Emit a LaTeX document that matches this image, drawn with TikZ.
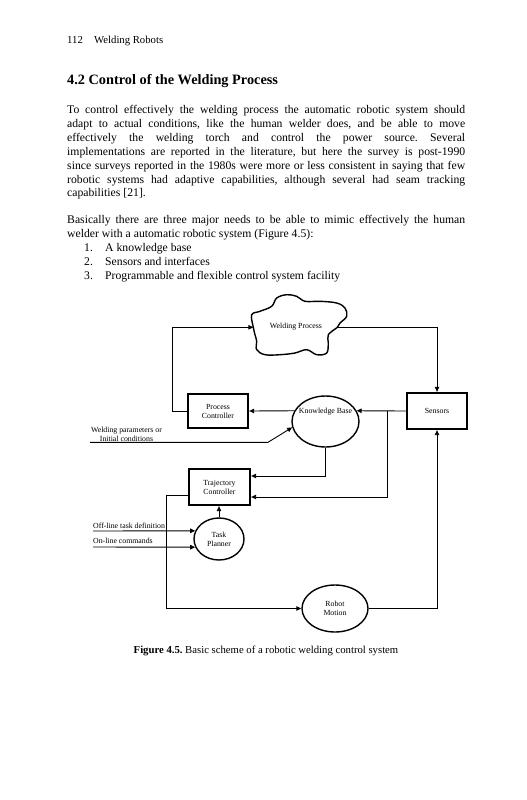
\documentclass[tikz,border=0pt]{standalone}
\usepackage{fontspec}
\setmainfont{Liberation Serif}
\usetikzlibrary{arrows.meta,calc,shapes.geometric}
\frenchspacing
\begin{document}
\begin{tikzpicture}[x=1pt,y=-1pt,
  body/.style={anchor=base west,inner sep=0pt,font=\fontsize{11.7}{13.9}\selectfont},
  lbl/.style={font=\fontsize{7.8}{9}\selectfont,inner sep=0pt,align=center},
  boxn/.style={draw,line width=1.8pt,font=\fontsize{7.8}{9}\selectfont,align=center,inner sep=0pt},
  ell/.style={draw,ellipse,line width=1.4pt,inner sep=0pt},
  con/.style={line width=0.9pt},
  arr/.style={con,-{Triangle[length=5pt,width=4.5pt]}}]
\useasboundingbox[fill=white] (0,0) rectangle (527,800);

% header and text
\node[anchor=base west,inner sep=0pt,font=\fontsize{10.7}{12}\selectfont] (pg) at (67,43.5) {112};
\node[anchor=base west,inner sep=0pt,font=\fontsize{10.7}{12}\selectfont] (rh) at (94,43.5) {Welding Robots};
\node[anchor=base west,inner sep=0pt,font=\fontsize{14.3}{16}\selectfont\bfseries] (hd) at (67,84.5) {4.2 Control of the Welding Process};

\node[body] (a1) at (67,113.6) {\makebox[398pt][s]{To control effectively the welding process the automatic robotic system should}};
\node[body] (a2) at (67,127.5) {\makebox[398pt][s]{adapt to actual conditions, like the human welder does, and be able to move}};
\node[body] (a3) at (67,141.3) {\makebox[398pt][s]{effectively the welding torch and control the power source. Several}};
\node[body] (a4) at (67,155.2) {\makebox[398pt][s]{implementations are reported in the literature, but here the survey is post-1990}};
\node[body] (a5) at (67,169.1) {\makebox[398pt][s]{since surveys reported in the 1980s were more or less consistent in saying that few}};
\node[body] (a6) at (67,183.0) {\makebox[398pt][s]{robotic systems had adaptive capabilities, although several had seam tracking}};
\node[body] (a7) at (67,196.8) {capabilities [21].};

\node[body] (b1) at (67,223.8) {\makebox[398pt][s]{Basically there are three major needs to be able to mimic effectively the human}};
\node[body] (b2) at (67,237.7) {welder with a automatic robotic system (Figure 4.5):};
\node[body] (n1) at (84,251.6) {1.};
\node[body] (l1) at (105,251.6) {A knowledge base};
\node[body] (n2) at (84,265.4) {2.};
\node[body] (l2) at (105,265.4) {Sensors and interfaces};
\node[body] (n3) at (84,279.3) {3.};
\node[body] (l3) at (105,279.3) {Programmable and flexible control system facility};

% cloud
\draw[line width=1.4pt] plot[smooth cycle,tension=0.6] coordinates {
 (253.3,327.3) (251.7,314.7) (260,311.3) (271.7,306.3) (276.7,298) (286.7,294.7)
 (296.7,296.3) (305,301.3) (320,301.3) (336.7,303) (345,308) (346.7,316.3)
 (340,323) (337.3,327.3) (328.3,334.7) (328.3,343) (326.7,353) (316.7,354.7)
 (306.7,349.7) (295,353) (280,354.7) (265,354.7) (256.7,349.7) (256.7,341.3) (255,334.7)};
\node[lbl] (wp) at (296,327) {Welding Process};
\coordinate (wpL) at (253.3,327.3);
\coordinate (wpR) at (337.3,327.3);

% blocks
\node[boxn,minimum width=60.5pt,minimum height=34.5pt] (pc) at (218,411) {Process\\Controller};
\node[boxn,minimum width=60.5pt,minimum height=36.5pt] (sens) at (437,411) {Sensors};
\node[boxn,minimum width=61.5pt,minimum height=36.5pt] (tc) at (219.5,487) {Trajectory\\Controller};
\node[ell,minimum width=67pt,minimum height=51pt] (kb) at (325.5,421.5) {};
\node[lbl] (kbt) at (325.5,412) {Knowledge Base};
\node[ell,minimum width=50pt,minimum height=42pt,lbl] (tp) at (219,539) {Task\\Planner};
\node[ell,minimum width=66pt,minimum height=47pt,lbl] (rm) at (335,608.5) {Robot\\Motion};

% labels
\node[lbl,font=\fontsize{7.8}{8.6}\selectfont] (wpt) at (126.5,434.2) {Welding parameters or\\Initial conditions};
\node[lbl,anchor=base west] (offt) at (93,528.6) {Off-line task definition};
\node[lbl,anchor=base west] (ont) at (93,543.8) {On-line commands};

% connectors
\draw[arr] (pc.west) -- ++(-14,0) |- (wpL);
\draw[arr] (wpR) -| (sens.north);
\draw[arr] (sens.west) -- (kb.19);
\draw[arr] (kb.161) -- (pc.east);
\coordinate (br) at (387,411);
\draw[arr] (br) |- ($(tc.east)+(0,10)$);
\draw[arr] (kb.south) |- ($(tc.east)+(0,-11)$);
\coordinate (wpin) at (90,442.3);
\coordinate (wpk) at (268,442.3);
\draw[arr] (wpin) -- (wpk) -- (kb.190);
\coordinate (offin) at (93,531);
\coordinate (onin) at (93,547);
\draw[arr] (offin) -- (tp.161);
\draw[arr] (onin) -- (tp.199);
\draw[arr] (tp.north) -- (tp.north |- tc.south);
\coordinate (tcl) at (166,495);
\draw[arr] ($(tc.west)+(0,8)$) -- (tcl) |- (rm.west);
\draw[arr] (rm.east) -| (sens.south);

% caption
\node[anchor=base,inner sep=0pt,font=\fontsize{10.7}{12}\selectfont] (cap) at (266,653.5) {\textbf{Figure 4.5.} Basic scheme of a robotic welding control system};
\end{tikzpicture}
\end{document}
